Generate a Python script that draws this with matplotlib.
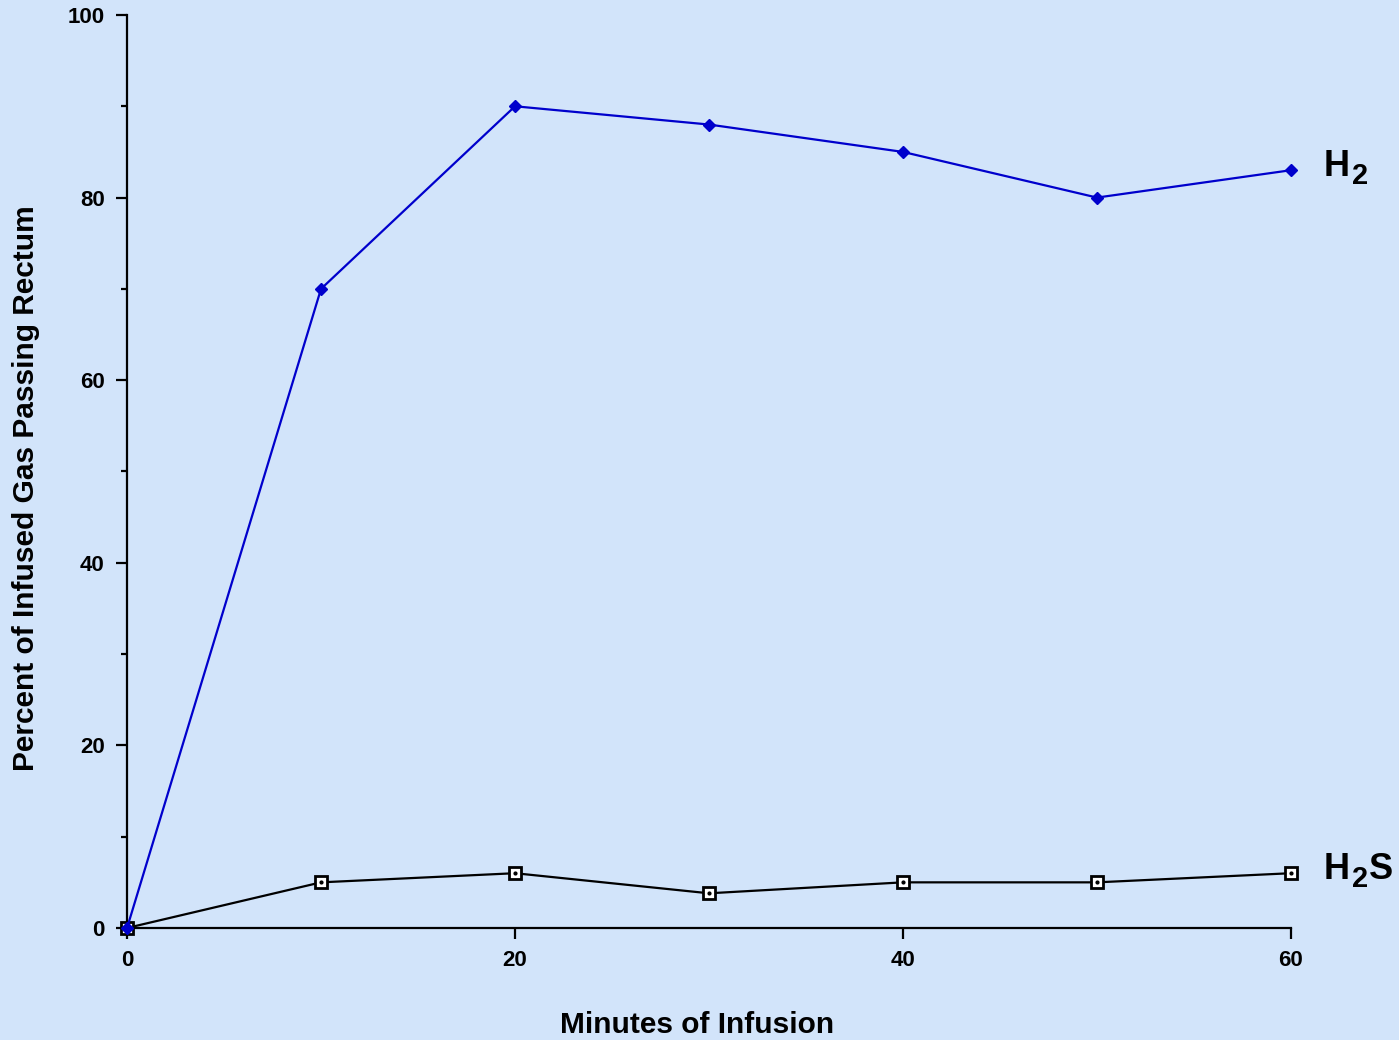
import numpy as np
import matplotlib
matplotlib.use("Agg")
import matplotlib.pyplot as plt
from matplotlib.ticker import MultipleLocator

plt.rcParams['font.family'] = ['Liberation Sans', 'DejaVu Sans']
plt.rcParams['font.weight'] = 'bold'

# data
minutes = [0, 10, 20, 30, 40, 50, 60]
h2 = [0, 70, 90, 88, 85, 80, 83]
h2s = [0, 5, 6, 3.8, 5, 5, 6]

bg = '#d2e4fa'
fig = plt.figure(figsize=(13.99, 10.40), dpi=100, facecolor=bg)
ax = fig.add_axes([0.0908, 0.1077, 0.832, 0.8779], facecolor=bg)

# H2S first so the blue marker sits on top at the origin
ax.plot(minutes, h2s, color='black', lw=1.6, marker='s', ms=8,
        mfc='white', mec='black', mew=2, clip_on=False, zorder=3)
ax.plot(minutes, h2s, ls='none', marker='o', ms=2, color='black',
        clip_on=False, zorder=4)
ax.plot(minutes, h2, color='#0000cc', lw=1.6, marker='D', ms=6.5,
        mfc='#0000cc', mec='#0000cc', clip_on=False, zorder=5)

# series labels at the line ends, drawn as H + lowered 2 (+ S)
def end_label(y, parts):
    for txt, dx, dy, fs in parts:
        ax.annotate(txt, (minutes[-1], y), xytext=(dx, dy),
                    textcoords='offset pixels', fontsize=fs,
                    fontweight='bold', va='center', ha='left',
                    annotation_clip=False)

end_label(h2[-1], [('H', 33, 4, 26), ('2', 61, -6, 21)])
end_label(h2s[-1], [('H', 33, 4, 26), ('2', 61, -6, 21), ('S', 78, 4, 26)])

ax.set_xlim(0, 60)
ax.set_ylim(0, 100)
ax.set_xticks([0, 20, 40, 60])
ax.set_yticks([0, 20, 40, 60, 80, 100])
ax.yaxis.set_minor_locator(MultipleLocator(10))

for side in ['top', 'right']:
    ax.spines[side].set_visible(False)
for side in ['left', 'bottom']:
    ax.spines[side].set_linewidth(1.6)

ax.tick_params(axis='both', which='major', length=8, width=1.6,
               labelsize=16, pad=8)
ax.tick_params(axis='y', which='minor', length=4, width=1.6)
for lbl in ax.get_xticklabels() + ax.get_yticklabels():
    lbl.set_fontweight('bold')

ax.set_xlabel('Minutes of Infusion', fontsize=21.5, fontweight='bold')
ax.xaxis.set_label_coords(0.4897, -0.091)
ax.set_ylabel('Percent of Infused Gas Passing Rectum', fontsize=21.5,
              fontweight='bold')
ax.yaxis.set_label_coords(-0.0745, 0.482)

fig.savefig('out.png', dpi=100, facecolor=bg)
